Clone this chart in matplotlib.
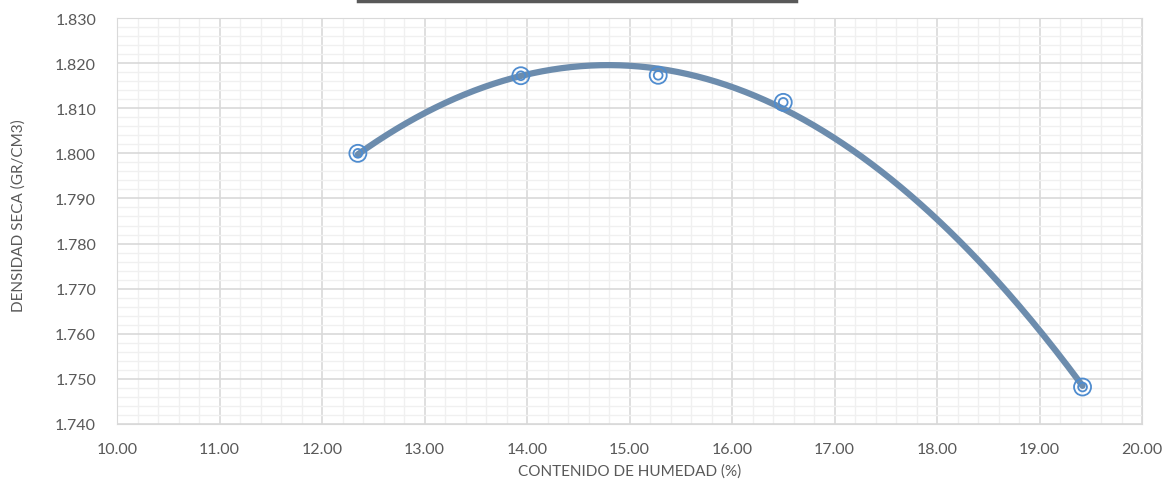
import numpy as np
import matplotlib
matplotlib.use("Agg")
import matplotlib.pyplot as plt
from matplotlib.lines import Line2D
from matplotlib.ticker import MultipleLocator, FormatStrFormatter

humedad = [12.35, 13.94, 15.28, 16.50, 19.42]
densidad = [1.800, 1.8172, 1.8173, 1.8113, 1.7482]
xlabel = "CONTENIDO DE HUMEDAD (%)"
ylabel = "DENSIDAD SECA (GR/CM3)"

plt.rcParams['font.family'] = ['Lato', 'DejaVu Sans']

fig = plt.figure(figsize=(11.68, 4.85), dpi=100)
ax = fig.add_axes([117/1168, 1-425/485, (1142-117)/1168, (425-19)/485])

ax.set_xlim(10, 20)
ax.set_ylim(1.740, 1.830)
ax.xaxis.set_major_locator(MultipleLocator(1))
ax.xaxis.set_minor_locator(MultipleLocator(0.2))
ax.yaxis.set_major_locator(MultipleLocator(0.01))
ax.yaxis.set_minor_locator(MultipleLocator(0.002))
ax.xaxis.set_major_formatter(FormatStrFormatter('%.2f'))
ax.yaxis.set_major_formatter(FormatStrFormatter('%.3f'))
ax.grid(which='major', color='#d9d9d9', linewidth=1.2)
ax.grid(which='minor', color='#f0f0f0', linewidth=1.0)
ax.set_axisbelow(True)
for s in ax.spines.values():
    s.set_color('#d9d9d9')
ax.tick_params(which='both', length=0, labelsize=11.5, colors='#595959')
ax.tick_params(axis='x', pad=13)
ax.tick_params(axis='y', pad=15)

# polynomial trendline (order 2) through the data
coef = np.polyfit(humedad, densidad, 2)
xs = np.linspace(min(humedad), max(humedad), 300)
ax.plot(xs, np.polyval(coef, xs), color='#6c8cad', linewidth=4.5, solid_capstyle='round', zorder=3)

ax.scatter(humedad, densidad, s=150, facecolors='none', edgecolors='#4f8ccf', linewidths=1.3, zorder=4)
ax.scatter(humedad, densidad, s=40, facecolors='none', edgecolors='#4f8ccf', linewidths=1.3, zorder=4)

fig.text(630/1168, 1-472/485, xlabel, fontsize=11, color='#595959', ha='center', va='center')
fig.text(19/1168, 1-216/485, ylabel, fontsize=11, color='#595959', ha='center', va='center', rotation=90)

fig.add_artist(Line2D([358/1168, 796/1168], [1-2/485, 1-2/485], color='#595959', linewidth=2.5))

fig.savefig("out.png", dpi=100)
